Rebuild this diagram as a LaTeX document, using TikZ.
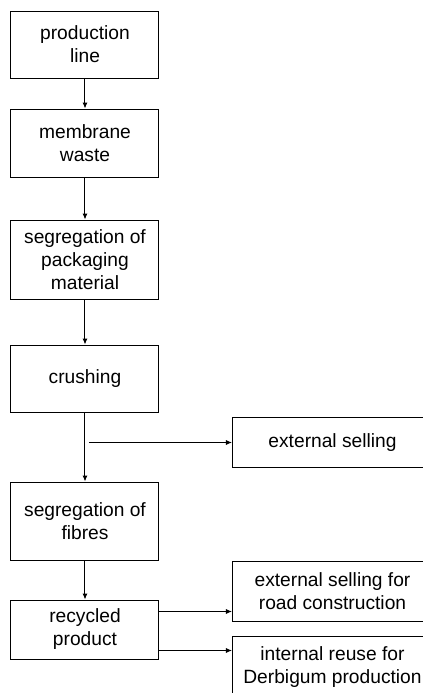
\documentclass[tikz,border=0pt]{standalone}
\usepackage{fontspec}
\setmainfont{Liberation Sans}
\usepackage{tikz}
\usetikzlibrary{arrows.meta,positioning,calc}

\tikzset{
  box/.style={draw, line width=0.5pt, minimum width=74pt, align=center, inner sep=0pt,
    font=\fontsize{9.6}{11.5}\selectfont},
  sidebox/.style={box, minimum width=100pt, anchor=west},
  arr/.style={-{Latex[length=3pt,width=2.6pt]}, line width=0.5pt},
}

\begin{document}
\begin{tikzpicture}[x=0.5pt,y=-0.5pt]
\useasboundingbox (0,0) rectangle (423,693);
\clip (0,0) rectangle (423,693);
\node[box, minimum height=33.5pt] (line) at (85,44.5) {production\\line};
\node[box, minimum height=34pt] (waste) at (85,143) {membrane\\waste};
\node[box, minimum height=39.5pt] (pack) at (85,259.5) {segregation of\\packaging\\material};
\node[box, minimum height=33.5pt] (crush) at (85,378.5) {crushing};
\node[box, minimum height=39pt] (fibre) at (85,521) {segregation of\\fibres};
\node[box, minimum height=29.5pt] (recyc) at (85,629.5) {recycled\\product};
\node[sidebox, minimum height=25pt] (sell) at (232,442.5) {external selling};
\node[sidebox, minimum height=30pt] (road) at (232,591) {external selling for\\road construction};
\node[sidebox, minimum height=31pt] (reuse) at (232,667) {internal reuse for\\Derbigum production};
\draw[arr] (line) -- (waste);
\draw[arr] (waste) -- (pack);
\draw[arr] (pack) -- (crush);
\draw[arr] (crush) -- (fibre);
\draw[arr] (fibre) -- (recyc);
\coordinate (fork) at (sell.west -| crush.south);
\draw[arr, shorten <=2pt] (fork) -- (sell.west);
\coordinate (out1) at ($(recyc.north east)!0.2!(recyc.south east)$);
\coordinate (out2) at ($(recyc.north east)!0.85!(recyc.south east)$);
\draw[arr] (out1) -- (out1 -| road.west);
\draw[arr] (out2) -- (out2 -| reuse.west);
\end{tikzpicture}
\end{document}
